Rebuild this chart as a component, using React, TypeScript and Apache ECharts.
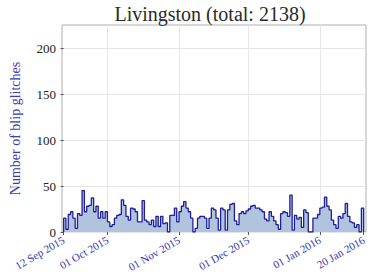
import React, { useEffect, useRef } from "react";
import * as echarts from "echarts";

const chartTitle = "Livingston (total: 2138)";
const yAxisName = "Number of blip glitches";
const startDate = "2015-09-12";
// daily counts of blip glitches, one per day starting at startDate
const dailyCounts = [
  15, 3, 19, 22, 15, 4, 20, 18, 45, 22, 28, 29, 37, 22, 28, 15, 22, 15, 22, 11, 6, 8,
  15, 18, 19, 35, 29, 17, 13, 26, 25, 22, 11, 11, 34, 13, 11, 8, 13, 6, 17, 6, 17, 9,
  10, 0, 18, 18, 26, 11, 22, 28, 33, 26, 22, 15, 0, 4, 15, 17, 17, 15, 4, 15, 26,
  24, 15, 2, 26, 24, 2, 24, 30, 31, 12, 8, 20, 22, 20, 23, 25, 28, 29, 26, 26, 24, 22,
  14, 12, 22, 17, 12, 8, 3, 20, 22, 21, 17, 40, 2, 18, 14, 16, 5, 24, 21, 0, 0, 15,
  15, 19, 26, 27, 38, 28, 24, 13, 8, 4, 17, 15, 20, 31, 17, 11, 10, 5, 8, 0, 26,
];
const tickDates = ["2015-09-12", "2015-10-01", "2015-11-01", "2015-12-01", "2016-01-01", "2016-01-20"];
const tickLabels = ["12 Sep 2015", "01 Oct 2015", "01 Nov 2015", "01 Dec 2015", "01 Jan 2016", "20 Jan 2016"];
const yTicks = [0, 50, 100, 150, 200];

const DAY = 86400000;
const dayOf = (s: string) => Math.round((Date.parse(s) - Date.parse(startDate)) / DAY);

export default function App() {
  const ref = useRef<HTMLDivElement>(null);
  useEffect(() => {
    if (!ref.current) return;
    const chart = echarts.init(ref.current, null, { renderer: "svg" });
    const tickDays = tickDates.map(dayOf);
    const n = dailyCounts.length;
    const stepData: number[][] = [[0, 0]];
    dailyCounts.forEach((c, i) => stepData.push([i, c]));
    stepData.push([n, dailyCounts[n - 1]]);
    stepData.push([n, 0]);
    const serif = "Liberation Serif";
    chart.setOption({
      animation: false,
      textStyle: { fontFamily: serif },
      grid: {
        left: 55,
        right: 8,
        top: 25,
        bottom: 46,
        show: true,
        borderColor: "#b0b0b0",
        borderWidth: 1,
        backgroundColor: "transparent",
      },
      graphic: [
        {
          type: "text",
          x: 210,
          y: 4,
          style: {
            text: chartTitle,
            align: "center",
            textAlign: "center",
            verticalAlign: "top",
            textVerticalAlign: "top",
            fontSize: 20,
            fontFamily: serif,
            fill: "#2a2a2a",
          },
        },
      ],
      xAxis: {
        type: "value",
        min: -0.7,
        max: n + 1,
        axisLine: { show: false },
        splitLine: { show: false },
        axisTick: {
          show: true,
          customValues: tickDays,
          length: 3,
          lineStyle: { color: "#555" },
        },
        axisLabel: {
          customValues: tickDays,
          rotate: 30,
          margin: 7,
          fontSize: 11,
          fontFamily: serif,
          color: "#3434b0",
          formatter: (v: number) => {
            const i = tickDays.indexOf(Math.round(v));
            return i >= 0 ? tickLabels[i] : "";
          },
        },
      },
      yAxis: {
        type: "value",
        min: 0,
        max: 225,
        interval: 50,
        name: yAxisName,
        nameLocation: "middle",
        nameGap: 40,
        nameTextStyle: { color: "#3a3ab8", fontSize: 14, fontFamily: serif },
        axisLine: { show: false },
        axisTick: {
          show: true,
          customValues: yTicks,
          length: 3,
          lineStyle: { color: "#555" },
        },
        axisLabel: {
          customValues: yTicks,
          margin: 6,
          fontSize: 13,
          fontFamily: serif,
          color: "#222",
        },
        splitLine: { show: true, lineStyle: { color: "#e6e6e6", width: 1 } },
      },
      series: [
        {
          type: "line",
          data: [],
          silent: true,
          z: 1,
          markLine: {
            silent: true,
            symbol: "none",
            z: 1,
            animation: false,
            label: { show: false },
            lineStyle: { color: "#e6e6e6", type: "solid", width: 1 },
            data: tickDays.slice(1, -1).map((d) => ({ xAxis: d })),
          },
        },
        {
          type: "line",
          step: "end",
          z: 3,
          data: stepData,
          symbol: "none",
          showSymbol: false,
          lineStyle: { color: "#1f1f9c", width: 1.3 },
          areaStyle: { color: "#b0c4de", opacity: 1, origin: "start" },
        },
      ],
    });
    return () => chart.dispose();
  }, []);
  return (
    <div
      ref={ref}
      style={{ position: "fixed", left: 0, top: 0, width: 374, height: 278, background: "#fff" }}
    />
  );
}
